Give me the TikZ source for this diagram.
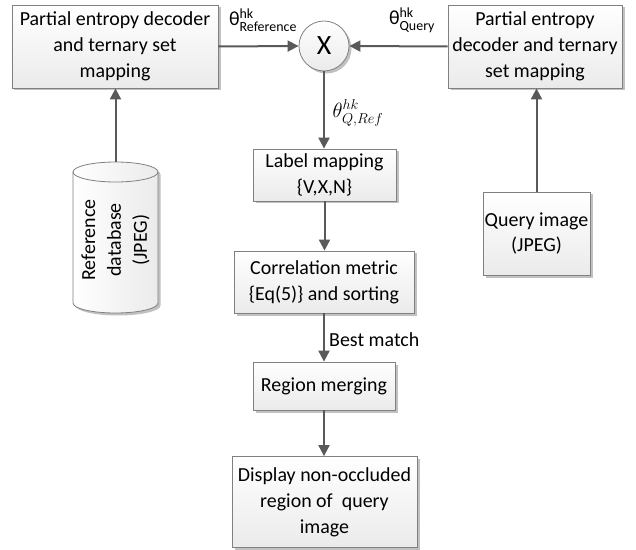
\documentclass[tikz,border=0pt]{standalone}
\usepackage{fontspec}
\setmainfont{Carlito}
\usepackage{amsmath}
\usetikzlibrary{arrows.meta,shadows}

\tikzset{
  boxstyle/.style={draw=black!50, line width=0.8bp, top color=white, bottom color=black!8,
    drop shadow={shadow xshift=2.5bp, shadow yshift=-2.5bp, fill=black!35, opacity=0.7},
    align=center, font=\fontsize{20}{26}\selectfont, inner sep=0pt},
  conn/.style={draw=black!65, line width=2bp, -{Triangle[length=11bp,width=11bp]}},
  lbl/.style={font=\fontsize{20}{24}\selectfont, inner sep=0pt},
}

\begin{document}
\begin{tikzpicture}[x=1bp,y=-1bp]
\useasboundingbox (0,0) rectangle (636,550);

\node[boxstyle, minimum width=206bp, minimum height=83bp] (lbox) at (115,46.5)
  {Partial entropy decoder\\and ternary set\\mapping};
\node[boxstyle, minimum width=174bp, minimum height=83bp] (rbox) at (535,46.5)
  {Partial entropy\\decoder and ternary\\set mapping};
\node[boxstyle, circle, minimum size=50bp, font=\fontsize{28}{28}\selectfont] (mult) at (324,46) {X};

\node[boxstyle, minimum width=143bp, minimum height=52bp] (label) at (324.5,175)
  {Label mapping\\\{V,X,N\}};
\node[boxstyle, minimum width=180bp, minimum height=62bp] (corr) at (324,282)
  {Correlation metric\\\{Eq(5)\} and sorting};
\node[boxstyle, minimum width=142bp, minimum height=48bp] (merge) at (324,386)
  {Region merging};
\node[boxstyle, minimum width=185bp, minimum height=91bp] (disp) at (324.5,502)
  {Display non-occluded\\region of\ \ query\\image};
\node[boxstyle, minimum width=107bp, minimum height=83bp] (query) at (536.5,233.5)
  {Query image\\(JPEG)};

% cylinder
\begin{scope}
\path[drop shadow={shadow xshift=2.5bp, shadow yshift=-2.5bp, fill=black!35, opacity=0.7},
      draw=black!50, line width=0.8bp, left color=white, right color=black!8]
  (73,172) arc[start angle=180, end angle=0, x radius=42.5, y radius=-10]
  -- (158,303) arc[start angle=0, end angle=-180, x radius=42.5, y radius=-10] -- cycle;
\draw[black!50, line width=0.8bp] (73,172) arc[start angle=180, end angle=360, x radius=42.5, y radius=-10];
\end{scope}
\coordinate (cyltop) at (115.5,162);
\node[rotate=90, align=center, font=\fontsize{20}{26}\selectfont] (cyltext) at (115.5,240)
  {Reference\\database\\(JPEG)};

% connectors
\draw[conn] (cyltop) -- (lbox.south -| cyltop);
\draw[conn] (lbox.east) -- (mult.west);
\draw[conn] (rbox.west) -- (mult.east);
\draw[conn] (mult.south) -- (label.north -| mult.south);
\draw[conn] (label.south) -- (corr.north -| label.south);
\draw[conn] (corr.south) -- (merge.north);
\draw[conn] (merge.south) -- (disp.north -| merge.south);
\draw[conn] (query.north) -- (rbox.south -| query.north);

% labels
\node[lbl] (lref) at (263,20) {θ$^{\text{hk}}_{\text{Reference}}$};
\node[lbl] (lqry) at (412,20) {θ$^{\text{hk}}_{\text{Query}}$};
\node[lbl] (lqr) at (358,113) {$\theta^{hk}_{Q,Ref}$};
\node[lbl, anchor=west] (lbest) at (329,340) {Best match};
\end{tikzpicture}
\end{document}
